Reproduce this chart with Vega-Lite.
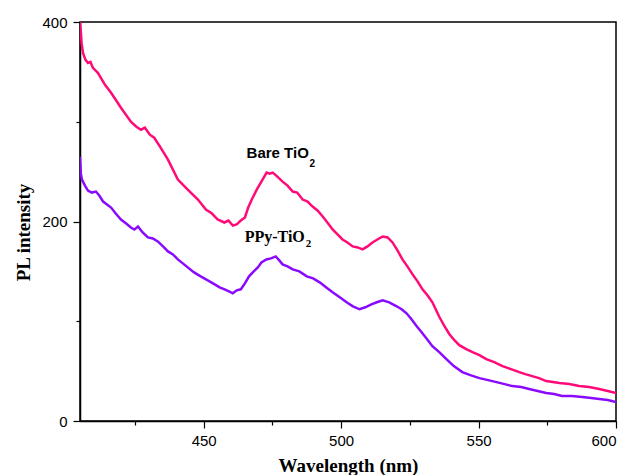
{
  "$schema": "https://vega.github.io/schema/vega-lite/v6.json",
  "width": 536,
  "height": 399,
  "autosize": {"type": "none"},
  "padding": {"left": 80, "top": 22, "right": 14, "bottom": 54},
  "background": "white",
  "config": {
    "view": {"stroke": "black", "strokeWidth": 1.5},
    "axis": {
      "domainColor": "black", "domainWidth": 1.5, "tickColor": "black", "tickWidth": 1.2,
      "grid": false, "labelFont": "Liberation Sans", "labelFontSize": 15, "labelColor": "black",
      "titleFont": "Liberation Serif", "titleFontSize": 19, "titleFontWeight": "bold", "titleColor": "black"
    }
  },
  "datasets": {
    "pl": [
      {"wavelength": 405.0, "intensity": 400, "sample": "Bare TiO2"},
      {"wavelength": 405.3, "intensity": 390, "sample": "Bare TiO2"},
      {"wavelength": 405.6, "intensity": 378, "sample": "Bare TiO2"},
      {"wavelength": 406.1, "intensity": 369, "sample": "Bare TiO2"},
      {"wavelength": 407.0, "intensity": 362, "sample": "Bare TiO2"},
      {"wavelength": 407.9, "intensity": 359, "sample": "Bare TiO2"},
      {"wavelength": 408.8, "intensity": 360, "sample": "Bare TiO2"},
      {"wavelength": 409.7, "intensity": 354, "sample": "Bare TiO2"},
      {"wavelength": 411.5, "intensity": 349, "sample": "Bare TiO2"},
      {"wavelength": 414.1, "intensity": 337, "sample": "Bare TiO2"},
      {"wavelength": 416.3, "intensity": 329, "sample": "Bare TiO2"},
      {"wavelength": 418.0, "intensity": 322, "sample": "Bare TiO2"},
      {"wavelength": 419.9, "intensity": 314, "sample": "Bare TiO2"},
      {"wavelength": 423.5, "intensity": 300, "sample": "Bare TiO2"},
      {"wavelength": 425.5, "intensity": 295, "sample": "Bare TiO2"},
      {"wavelength": 427.2, "intensity": 292, "sample": "Bare TiO2"},
      {"wavelength": 428.6, "intensity": 294, "sample": "Bare TiO2"},
      {"wavelength": 430.4, "intensity": 287, "sample": "Bare TiO2"},
      {"wavelength": 432.0, "intensity": 284, "sample": "Bare TiO2"},
      {"wavelength": 434.1, "intensity": 275, "sample": "Bare TiO2"},
      {"wavelength": 437.0, "intensity": 262, "sample": "Bare TiO2"},
      {"wavelength": 440.6, "intensity": 242, "sample": "Bare TiO2"},
      {"wavelength": 444.2, "intensity": 232, "sample": "Bare TiO2"},
      {"wavelength": 447.9, "intensity": 222, "sample": "Bare TiO2"},
      {"wavelength": 450.8, "intensity": 212, "sample": "Bare TiO2"},
      {"wavelength": 453.0, "intensity": 208, "sample": "Bare TiO2"},
      {"wavelength": 455.1, "intensity": 202, "sample": "Bare TiO2"},
      {"wavelength": 457.5, "intensity": 199, "sample": "Bare TiO2"},
      {"wavelength": 459.0, "intensity": 201, "sample": "Bare TiO2"},
      {"wavelength": 460.6, "intensity": 196, "sample": "Bare TiO2"},
      {"wavelength": 462.0, "intensity": 197, "sample": "Bare TiO2"},
      {"wavelength": 463.5, "intensity": 201, "sample": "Bare TiO2"},
      {"wavelength": 465.0, "intensity": 204, "sample": "Bare TiO2"},
      {"wavelength": 466.2, "intensity": 214, "sample": "Bare TiO2"},
      {"wavelength": 467.5, "intensity": 222, "sample": "Bare TiO2"},
      {"wavelength": 469.3, "intensity": 232, "sample": "Bare TiO2"},
      {"wavelength": 471.2, "intensity": 241, "sample": "Bare TiO2"},
      {"wavelength": 472.9, "intensity": 249, "sample": "Bare TiO2"},
      {"wavelength": 474.0, "intensity": 248, "sample": "Bare TiO2"},
      {"wavelength": 475.1, "intensity": 249, "sample": "Bare TiO2"},
      {"wavelength": 476.8, "intensity": 245, "sample": "Bare TiO2"},
      {"wavelength": 478.7, "intensity": 240, "sample": "Bare TiO2"},
      {"wavelength": 480.5, "intensity": 236, "sample": "Bare TiO2"},
      {"wavelength": 482.4, "intensity": 230, "sample": "Bare TiO2"},
      {"wavelength": 484.0, "intensity": 229, "sample": "Bare TiO2"},
      {"wavelength": 486.0, "intensity": 222, "sample": "Bare TiO2"},
      {"wavelength": 487.8, "intensity": 220, "sample": "Bare TiO2"},
      {"wavelength": 489.6, "intensity": 215, "sample": "Bare TiO2"},
      {"wavelength": 491.4, "intensity": 211, "sample": "Bare TiO2"},
      {"wavelength": 493.3, "intensity": 205, "sample": "Bare TiO2"},
      {"wavelength": 495.0, "intensity": 199, "sample": "Bare TiO2"},
      {"wavelength": 496.9, "intensity": 192, "sample": "Bare TiO2"},
      {"wavelength": 498.7, "intensity": 187, "sample": "Bare TiO2"},
      {"wavelength": 500.5, "intensity": 182, "sample": "Bare TiO2"},
      {"wavelength": 502.3, "intensity": 179, "sample": "Bare TiO2"},
      {"wavelength": 504.2, "intensity": 175, "sample": "Bare TiO2"},
      {"wavelength": 506.0, "intensity": 174, "sample": "Bare TiO2"},
      {"wavelength": 507.8, "intensity": 172, "sample": "Bare TiO2"},
      {"wavelength": 509.6, "intensity": 175, "sample": "Bare TiO2"},
      {"wavelength": 511.4, "intensity": 179, "sample": "Bare TiO2"},
      {"wavelength": 513.2, "intensity": 182, "sample": "Bare TiO2"},
      {"wavelength": 515.1, "intensity": 185, "sample": "Bare TiO2"},
      {"wavelength": 516.9, "intensity": 184, "sample": "Bare TiO2"},
      {"wavelength": 518.7, "intensity": 179, "sample": "Bare TiO2"},
      {"wavelength": 520.5, "intensity": 171, "sample": "Bare TiO2"},
      {"wavelength": 522.3, "intensity": 162, "sample": "Bare TiO2"},
      {"wavelength": 524.1, "intensity": 155, "sample": "Bare TiO2"},
      {"wavelength": 526.0, "intensity": 147, "sample": "Bare TiO2"},
      {"wavelength": 527.8, "intensity": 140, "sample": "Bare TiO2"},
      {"wavelength": 529.6, "intensity": 132, "sample": "Bare TiO2"},
      {"wavelength": 531.4, "intensity": 126, "sample": "Bare TiO2"},
      {"wavelength": 533.2, "intensity": 119, "sample": "Bare TiO2"},
      {"wavelength": 535.8, "intensity": 104, "sample": "Bare TiO2"},
      {"wavelength": 537.6, "intensity": 95, "sample": "Bare TiO2"},
      {"wavelength": 539.4, "intensity": 87, "sample": "Bare TiO2"},
      {"wavelength": 541.2, "intensity": 81, "sample": "Bare TiO2"},
      {"wavelength": 543.0, "intensity": 76, "sample": "Bare TiO2"},
      {"wavelength": 545.5, "intensity": 72, "sample": "Bare TiO2"},
      {"wavelength": 547.8, "intensity": 69, "sample": "Bare TiO2"},
      {"wavelength": 550.3, "intensity": 66, "sample": "Bare TiO2"},
      {"wavelength": 552.8, "intensity": 62, "sample": "Bare TiO2"},
      {"wavelength": 555.7, "intensity": 59, "sample": "Bare TiO2"},
      {"wavelength": 558.7, "intensity": 55, "sample": "Bare TiO2"},
      {"wavelength": 561.8, "intensity": 52, "sample": "Bare TiO2"},
      {"wavelength": 564.8, "intensity": 49, "sample": "Bare TiO2"},
      {"wavelength": 567.0, "intensity": 47, "sample": "Bare TiO2"},
      {"wavelength": 569.5, "intensity": 45, "sample": "Bare TiO2"},
      {"wavelength": 572.0, "intensity": 43, "sample": "Bare TiO2"},
      {"wavelength": 574.6, "intensity": 40, "sample": "Bare TiO2"},
      {"wavelength": 579.4, "intensity": 38, "sample": "Bare TiO2"},
      {"wavelength": 583.0, "intensity": 37, "sample": "Bare TiO2"},
      {"wavelength": 586.6, "intensity": 35, "sample": "Bare TiO2"},
      {"wavelength": 590.2, "intensity": 34, "sample": "Bare TiO2"},
      {"wavelength": 593.9, "intensity": 32, "sample": "Bare TiO2"},
      {"wavelength": 597.0, "intensity": 30, "sample": "Bare TiO2"},
      {"wavelength": 600.0, "intensity": 28, "sample": "Bare TiO2"},

      {"wavelength": 405.0, "intensity": 265, "sample": "PPy-TiO2"},
      {"wavelength": 405.3, "intensity": 248, "sample": "PPy-TiO2"},
      {"wavelength": 405.7, "intensity": 242, "sample": "PPy-TiO2"},
      {"wavelength": 406.8, "intensity": 236, "sample": "PPy-TiO2"},
      {"wavelength": 407.9, "intensity": 231, "sample": "PPy-TiO2"},
      {"wavelength": 409.3, "intensity": 229, "sample": "PPy-TiO2"},
      {"wavelength": 410.8, "intensity": 230, "sample": "PPy-TiO2"},
      {"wavelength": 412.0, "intensity": 226, "sample": "PPy-TiO2"},
      {"wavelength": 413.4, "intensity": 220, "sample": "PPy-TiO2"},
      {"wavelength": 416.3, "intensity": 214, "sample": "PPy-TiO2"},
      {"wavelength": 418.0, "intensity": 208, "sample": "PPy-TiO2"},
      {"wavelength": 419.9, "intensity": 202, "sample": "PPy-TiO2"},
      {"wavelength": 421.8, "intensity": 198, "sample": "PPy-TiO2"},
      {"wavelength": 423.5, "intensity": 194, "sample": "PPy-TiO2"},
      {"wavelength": 424.8, "intensity": 192, "sample": "PPy-TiO2"},
      {"wavelength": 426.1, "intensity": 195, "sample": "PPy-TiO2"},
      {"wavelength": 427.8, "intensity": 189, "sample": "PPy-TiO2"},
      {"wavelength": 429.7, "intensity": 184, "sample": "PPy-TiO2"},
      {"wavelength": 431.5, "intensity": 183, "sample": "PPy-TiO2"},
      {"wavelength": 433.3, "intensity": 180, "sample": "PPy-TiO2"},
      {"wavelength": 435.2, "intensity": 175, "sample": "PPy-TiO2"},
      {"wavelength": 437.0, "intensity": 170, "sample": "PPy-TiO2"},
      {"wavelength": 438.8, "intensity": 167, "sample": "PPy-TiO2"},
      {"wavelength": 440.6, "intensity": 162, "sample": "PPy-TiO2"},
      {"wavelength": 442.4, "intensity": 158, "sample": "PPy-TiO2"},
      {"wavelength": 444.2, "intensity": 154, "sample": "PPy-TiO2"},
      {"wavelength": 446.5, "intensity": 149, "sample": "PPy-TiO2"},
      {"wavelength": 448.9, "intensity": 145, "sample": "PPy-TiO2"},
      {"wavelength": 451.5, "intensity": 141, "sample": "PPy-TiO2"},
      {"wavelength": 454.0, "intensity": 137, "sample": "PPy-TiO2"},
      {"wavelength": 455.8, "intensity": 134, "sample": "PPy-TiO2"},
      {"wavelength": 457.6, "intensity": 132, "sample": "PPy-TiO2"},
      {"wavelength": 459.2, "intensity": 130, "sample": "PPy-TiO2"},
      {"wavelength": 460.6, "intensity": 128, "sample": "PPy-TiO2"},
      {"wavelength": 462.0, "intensity": 131, "sample": "PPy-TiO2"},
      {"wavelength": 463.5, "intensity": 132, "sample": "PPy-TiO2"},
      {"wavelength": 465.0, "intensity": 138, "sample": "PPy-TiO2"},
      {"wavelength": 466.5, "intensity": 145, "sample": "PPy-TiO2"},
      {"wavelength": 468.2, "intensity": 150, "sample": "PPy-TiO2"},
      {"wavelength": 469.7, "intensity": 154, "sample": "PPy-TiO2"},
      {"wavelength": 471.0, "intensity": 159, "sample": "PPy-TiO2"},
      {"wavelength": 472.8, "intensity": 162, "sample": "PPy-TiO2"},
      {"wavelength": 474.5, "intensity": 163, "sample": "PPy-TiO2"},
      {"wavelength": 476.2, "intensity": 165, "sample": "PPy-TiO2"},
      {"wavelength": 477.5, "intensity": 161, "sample": "PPy-TiO2"},
      {"wavelength": 478.7, "intensity": 157, "sample": "PPy-TiO2"},
      {"wavelength": 480.5, "intensity": 155, "sample": "PPy-TiO2"},
      {"wavelength": 482.4, "intensity": 152, "sample": "PPy-TiO2"},
      {"wavelength": 484.8, "intensity": 150, "sample": "PPy-TiO2"},
      {"wavelength": 487.5, "intensity": 145, "sample": "PPy-TiO2"},
      {"wavelength": 489.8, "intensity": 143, "sample": "PPy-TiO2"},
      {"wavelength": 492.2, "intensity": 139, "sample": "PPy-TiO2"},
      {"wavelength": 494.5, "intensity": 134, "sample": "PPy-TiO2"},
      {"wavelength": 496.9, "intensity": 129, "sample": "PPy-TiO2"},
      {"wavelength": 499.5, "intensity": 124, "sample": "PPy-TiO2"},
      {"wavelength": 502.0, "intensity": 119, "sample": "PPy-TiO2"},
      {"wavelength": 504.3, "intensity": 115, "sample": "PPy-TiO2"},
      {"wavelength": 506.7, "intensity": 112, "sample": "PPy-TiO2"},
      {"wavelength": 508.8, "intensity": 114, "sample": "PPy-TiO2"},
      {"wavelength": 511.0, "intensity": 117, "sample": "PPy-TiO2"},
      {"wavelength": 513.0, "intensity": 119, "sample": "PPy-TiO2"},
      {"wavelength": 515.1, "intensity": 121, "sample": "PPy-TiO2"},
      {"wavelength": 517.5, "intensity": 119, "sample": "PPy-TiO2"},
      {"wavelength": 520.2, "intensity": 115, "sample": "PPy-TiO2"},
      {"wavelength": 522.0, "intensity": 112, "sample": "PPy-TiO2"},
      {"wavelength": 523.8, "intensity": 108, "sample": "PPy-TiO2"},
      {"wavelength": 525.6, "intensity": 102, "sample": "PPy-TiO2"},
      {"wavelength": 527.5, "intensity": 95, "sample": "PPy-TiO2"},
      {"wavelength": 529.0, "intensity": 90, "sample": "PPy-TiO2"},
      {"wavelength": 531.0, "intensity": 83, "sample": "PPy-TiO2"},
      {"wavelength": 533.2, "intensity": 75, "sample": "PPy-TiO2"},
      {"wavelength": 535.7, "intensity": 69, "sample": "PPy-TiO2"},
      {"wavelength": 538.3, "intensity": 62, "sample": "PPy-TiO2"},
      {"wavelength": 541.0, "intensity": 55, "sample": "PPy-TiO2"},
      {"wavelength": 544.1, "intensity": 49, "sample": "PPy-TiO2"},
      {"wavelength": 547.0, "intensity": 46, "sample": "PPy-TiO2"},
      {"wavelength": 550.3, "intensity": 43, "sample": "PPy-TiO2"},
      {"wavelength": 553.5, "intensity": 41, "sample": "PPy-TiO2"},
      {"wavelength": 556.5, "intensity": 39, "sample": "PPy-TiO2"},
      {"wavelength": 559.5, "intensity": 37, "sample": "PPy-TiO2"},
      {"wavelength": 562.3, "intensity": 35, "sample": "PPy-TiO2"},
      {"wavelength": 565.5, "intensity": 34, "sample": "PPy-TiO2"},
      {"wavelength": 568.4, "intensity": 32, "sample": "PPy-TiO2"},
      {"wavelength": 571.5, "intensity": 30, "sample": "PPy-TiO2"},
      {"wavelength": 574.6, "intensity": 28, "sample": "PPy-TiO2"},
      {"wavelength": 577.5, "intensity": 27, "sample": "PPy-TiO2"},
      {"wavelength": 580.4, "intensity": 25, "sample": "PPy-TiO2"},
      {"wavelength": 584.0, "intensity": 25, "sample": "PPy-TiO2"},
      {"wavelength": 587.7, "intensity": 24, "sample": "PPy-TiO2"},
      {"wavelength": 591.0, "intensity": 23, "sample": "PPy-TiO2"},
      {"wavelength": 593.9, "intensity": 22, "sample": "PPy-TiO2"},
      {"wavelength": 597.0, "intensity": 21, "sample": "PPy-TiO2"},
      {"wavelength": 600.0, "intensity": 19, "sample": "PPy-TiO2"}
    ],
    "labels": [
      {"wavelength": 465.6, "intensity": 263.4, "label": "Bare TiO", "kind": "main", "style": "sans"},
      {"wavelength": 488.5, "intensity": 255, "label": "2", "kind": "sub", "style": "sans"},
      {"wavelength": 464.9, "intensity": 179.1, "label": "PPy-TiO", "kind": "main", "style": "serif"},
      {"wavelength": 487.1, "intensity": 174.8, "label": "2", "kind": "sub", "style": "serif"}
    ]
  },
  "layer": [
    {
      "data": {"name": "pl"},
      "mark": {"type": "line", "strokeWidth": 2.5, "clip": true, "interpolate": "linear"},
      "encoding": {
        "x": {
          "field": "wavelength", "type": "quantitative",
          "scale": {"domain": [405, 600], "nice": false, "zero": false},
          "axis": {
            "title": "Wavelength (nm)",
            "values": [425, 450, 475, 500, 525, 550, 575, 600],
            "labelExpr": "datum.value % 50 === 0 ? datum.label : ''",
            "tickSize": {"condition": {"test": "datum.value % 50 === 0", "value": 7}, "value": 4},
            "labelPadding": 5,
            "titleY": 50, "titleBaseline": "alphabetic"
          }
        },
        "y": {
          "field": "intensity", "type": "quantitative",
          "scale": {"domain": [0, 400], "nice": false},
          "axis": {
            "title": "PL intensity",
            "values": [0, 100, 200, 300, 400],
            "labelExpr": "datum.value % 200 === 0 ? datum.label : ''",
            "tickSize": {"condition": {"test": "datum.value % 200 === 0", "value": 7}, "value": 4},
            "labelPadding": 6,
            "titleX": -57, "titleY": 210, "titleBaseline": "middle", "titleAlign": "center"
          }
        },
        "color": {
          "field": "sample", "type": "nominal",
          "scale": {"domain": ["Bare TiO2", "PPy-TiO2"], "range": ["#ff0a78", "#8a0aff"]},
          "legend": null
        }
      }
    },
    {
      "data": {"name": "labels"},
      "transform": [{"filter": "datum.style === 'sans' && datum.kind === 'main'"}],
      "mark": {"type": "text", "font": "Liberation Sans", "fontWeight": "bold", "fontSize": 15, "align": "left", "baseline": "alphabetic", "color": "black"},
      "encoding": {"x": {"field": "wavelength", "type": "quantitative"}, "y": {"field": "intensity", "type": "quantitative"}, "text": {"field": "label"}}
    },
    {
      "data": {"name": "labels"},
      "transform": [{"filter": "datum.style === 'sans' && datum.kind === 'sub'"}],
      "mark": {"type": "text", "font": "Liberation Sans", "fontWeight": "bold", "fontSize": 10, "align": "left", "baseline": "alphabetic", "color": "black"},
      "encoding": {"x": {"field": "wavelength", "type": "quantitative"}, "y": {"field": "intensity", "type": "quantitative"}, "text": {"field": "label"}}
    },
    {
      "data": {"name": "labels"},
      "transform": [{"filter": "datum.style === 'serif' && datum.kind === 'main'"}],
      "mark": {"type": "text", "font": "Liberation Serif", "fontWeight": "bold", "fontSize": 16, "align": "left", "baseline": "alphabetic", "color": "black"},
      "encoding": {"x": {"field": "wavelength", "type": "quantitative"}, "y": {"field": "intensity", "type": "quantitative"}, "text": {"field": "label"}}
    },
    {
      "data": {"name": "labels"},
      "transform": [{"filter": "datum.style === 'serif' && datum.kind === 'sub'"}],
      "mark": {"type": "text", "font": "Liberation Serif", "fontWeight": "bold", "fontSize": 11, "align": "left", "baseline": "alphabetic", "color": "black"},
      "encoding": {"x": {"field": "wavelength", "type": "quantitative"}, "y": {"field": "intensity", "type": "quantitative"}, "text": {"field": "label"}}
    }
  ]
}
